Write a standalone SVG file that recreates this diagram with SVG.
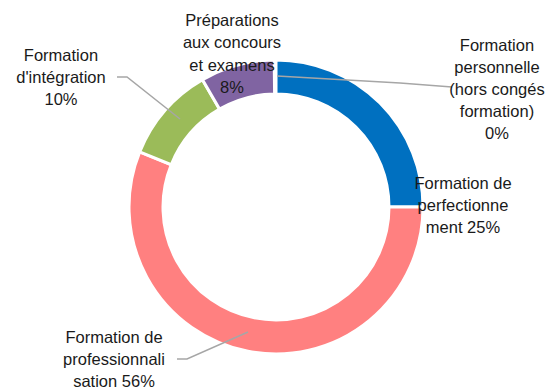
<svg xmlns="http://www.w3.org/2000/svg" width="555" height="391" viewBox="0 0 555 391">
<style>
.seg{stroke:#fff;stroke-width:3;stroke-linejoin:miter}
.lbl{font-family:"Liberation Sans",Arial,sans-serif;font-size:16.5px;fill:#1a1a1a;text-anchor:middle}
.lead{fill:none;stroke:#a6a6a6;stroke-width:1.5}
</style>
<rect width="555" height="391" fill="#fff"/>
<g id="ring">
<path id="seg-perfectionnement" class="seg" fill="#0070C0" d="M276,60 A147,147 0 0 1 423,207 L389,207 A113,113 0 0 0 276,94 Z"/>
<path id="seg-professionnalisation" class="seg" fill="#FF8080" d="M423,207 A147,147 0 1 1 139.7,151.9 L171.2,164.7 A113,113 0 1 0 389,207 Z"/>
<path id="seg-integration" class="seg" fill="#9BBB59" d="M139.7,151.9 A147,147 0 0 1 202.5,79.7 L219.5,109.1 A113,113 0 0 0 171.2,164.7 Z"/>
<path id="seg-preparations" class="seg" fill="#8064A2" d="M202.5,79.7 A147,147 0 0 1 274.2,60 L274.6,94 A113,113 0 0 0 219.5,109.1 Z"/>
</g>
<g id="connectors">
<polyline class="lead" points="177,359 187,359 248,332"/>
<polyline class="lead" points="117,77 127,77 180,119"/>
<polyline class="lead" points="277,76 400,83 452,87"/>
</g>
<g id="label-preparations">
<text class="lbl" x="232" y="26">Préparations</text>
<text class="lbl" x="232" y="48">aux concours</text>
<text class="lbl" x="232" y="71">et examens</text>
<text class="lbl" x="232" y="93">8%</text>
</g>
<g id="label-perfectionnement">
<text class="lbl" x="463" y="189">Formation de</text>
<text class="lbl" x="463" y="211">perfectionne</text>
<text class="lbl" x="463" y="233">ment 25%</text>
</g>
<g id="label-professionnalisation">
<text class="lbl" x="114" y="343">Formation de</text>
<text class="lbl" x="114" y="365">professionnali</text>
<text class="lbl" x="114" y="387">sation 56%</text>
</g>
<g id="label-integration">
<text class="lbl" x="61" y="61">Formation</text>
<text class="lbl" x="61" y="83">d'intégration</text>
<text class="lbl" x="61" y="105">10%</text>
</g>
<g id="label-personnelle">
<text class="lbl" x="497" y="51">Formation</text>
<text class="lbl" x="497" y="73">personnelle</text>
<text class="lbl" x="497" y="95">(hors congés</text>
<text class="lbl" x="497" y="117">formation)</text>
<text class="lbl" x="497" y="139">0%</text>
</g>
</svg>
